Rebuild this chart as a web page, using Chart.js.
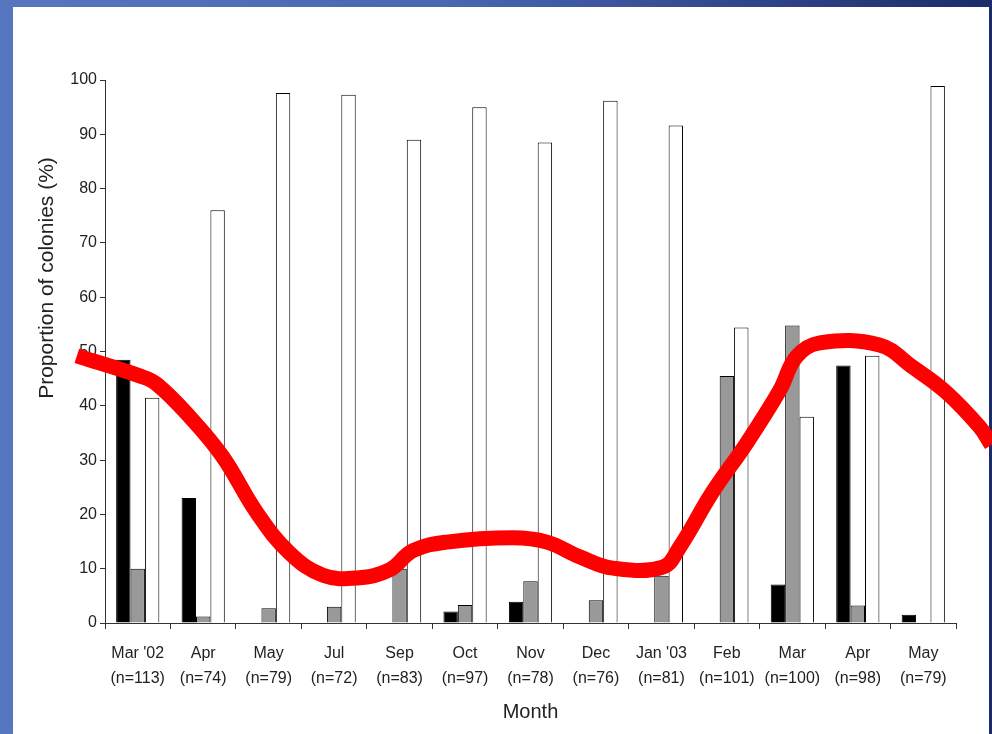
<!DOCTYPE html>
<html>
<head>
<meta charset="utf-8">
<script src="https://cdn.jsdelivr.net/npm/chart.js@4"></script>
<style>
  html, body { margin: 0; padding: 0; }
  body {
    width: 992px; height: 734px; overflow: hidden; position: relative;
    background: linear-gradient(90deg, #5677c0 0%, #4a67b1 45%, #1c2b6a 100%);
  }
  #panel { position: absolute; left: 13px; top: 7px; width: 976px; height: 727px; background: #fff; }
  #chart { position: absolute; left: 0; top: 0; }
</style>
</head>
<body>
<div id="panel"></div>
<canvas id="chart" width="992" height="734"></canvas>
<script>
// months sampled, with colony counts
const months = ["Mar '02", 'Apr', 'May', 'Jul', 'Sep', 'Oct', 'Nov', 'Dec', "Jan '03", 'Feb', 'Mar', 'Apr', 'May'];
const sampleSizes = ['(n=113)', '(n=74)', '(n=79)', '(n=72)', '(n=83)', '(n=97)', '(n=78)', '(n=76)', '(n=81)', '(n=101)', '(n=100)', '(n=98)', '(n=79)'];

// proportion of colonies (%) per bar colour
const blackBars = [48.5, 23, 0, 0, 0, 2.1, 3.9, 0, 0, 0, 7.1, 47.4, 1.5];
const greyBars  = [10, 1.2, 2.7, 3, 10, 3.3, 7.7, 4.2, 8.7, 45.5, 54.8, 3.2, 0];
const whiteBars = [41.5, 76, 97.6, 97.3, 89, 95, 88.5, 96.2, 91.6, 54.4, 38, 49.2, 98.9];

// hand-drawn red curve: x in month positions (0 = first month), y in %
const curveX = [-0.93, 0.03, 0.29, 0.8, 1.3, 1.82, 2.32, 2.83, 3.35, 3.85, 4.2, 4.72, 5.73, 6.25, 6.75, 7.26, 8.02, 8.28, 8.78, 9.3, 9.81, 10.06, 10.42, 11.33, 11.84, 12.35, 12.86, 13.04];
const curveY = [49.2, 45.5, 44, 37.9, 30.6, 20.3, 12.9, 8.8, 8.3, 9.8, 13.3, 14.9, 15.7, 14.9, 12.2, 10.1, 10.3, 14, 24.1, 33.1, 42.9, 49, 51.6, 51.2, 47.1, 42.5, 36.1, 32.8];

const yTicks = [0, 10, 20, 30, 40, 50, 60, 70, 80, 90, 100];
const yTitle = 'Proportion of colonies (%)';

const curve = curveX.map((x, i) => ({ x: x, y: curveY[i] }));
const monthIdx = months.map((m, i) => i);

const axisColor = '#333';
const textColor = '#222';
const font = 'Liberation Sans, Arial, sans-serif';

function bars(label, data, color) {
  return {
    type: 'bar', label: label, order: 1,
    data: data.map((v, i) => ({ x: i, y: v })),
    backgroundColor: color, borderColor: '#000', borderWidth: 1,
    categoryPercentage: 0.66, barPercentage: 1
  };
}

// y title sits above the middle of the axis in the original, so draw it by hand
const yTitlePlugin = {
  id: 'yTitle',
  afterDraw(chart) {
    const ctx = chart.ctx;
    ctx.save();
    ctx.translate(47, 278);
    ctx.rotate(-Math.PI / 2);
    ctx.font = '21px ' + font;
    ctx.fillStyle = textColor;
    ctx.textAlign = 'center';
    ctx.textBaseline = 'middle';
    ctx.fillText(yTitle, 0, 0);
    ctx.restore();
  }
};

new Chart(document.getElementById('chart').getContext('2d'), {
  data: {
    datasets: [
      bars('Black', blackBars, '#000000'),
      bars('Grey', greyBars, '#999999'),
      bars('White', whiteBars, '#ffffff'),
      {
        type: 'line', label: 'Curve', data: curve, order: 0,
        borderColor: '#ff0000', borderWidth: 15, pointRadius: 0, tension: 0.4,
        borderCapStyle: 'butt', borderJoinStyle: 'round', fill: false, clip: false
      }
    ]
  },
  options: {
    responsive: false,
    animation: false,
    layout: { padding: { top: 80, right: 36, left: 0, bottom: 0 } },
    plugins: { legend: { display: false }, tooltip: { enabled: false } },
    scales: {
      x: {
        type: 'linear', offset: false, bounds: 'data',
        // months run from -0.5 to 12.5; set here so the curve is not trimmed at the edges
        afterDataLimits: s => { s.min = -0.5; s.max = 12.5; },
        afterBuildTicks: s => { s.ticks = monthIdx.map(v => ({ value: v })); },
        grid: { offset: true, drawOnChartArea: false, tickLength: 6, color: axisColor },
        border: { color: axisColor },
        ticks: {
          color: textColor, font: { family: font, size: 16, lineHeight: 1.55 }, padding: 12,
          maxRotation: 0, autoSkip: false,
          callback: v => [months[v], sampleSizes[v]]
        },
        title: { display: true, text: 'Month', color: textColor, font: { family: font, size: 20 }, padding: { top: 0, bottom: 10 } },
        afterFit: s => { s.height = 111; }
      },
      y: {
        type: 'linear', min: 0, max: 100,
        afterBuildTicks: s => { s.ticks = yTicks.map(v => ({ value: v })); },
        grid: { drawOnChartArea: false, tickLength: 5, color: axisColor },
        border: { color: axisColor },
        ticks: { color: textColor, font: { family: font, size: 16 }, padding: 3 },
        afterFit: s => { s.width = 105; }
      }
    }
  },
  plugins: [yTitlePlugin]
});
</script>
</body>
</html>
